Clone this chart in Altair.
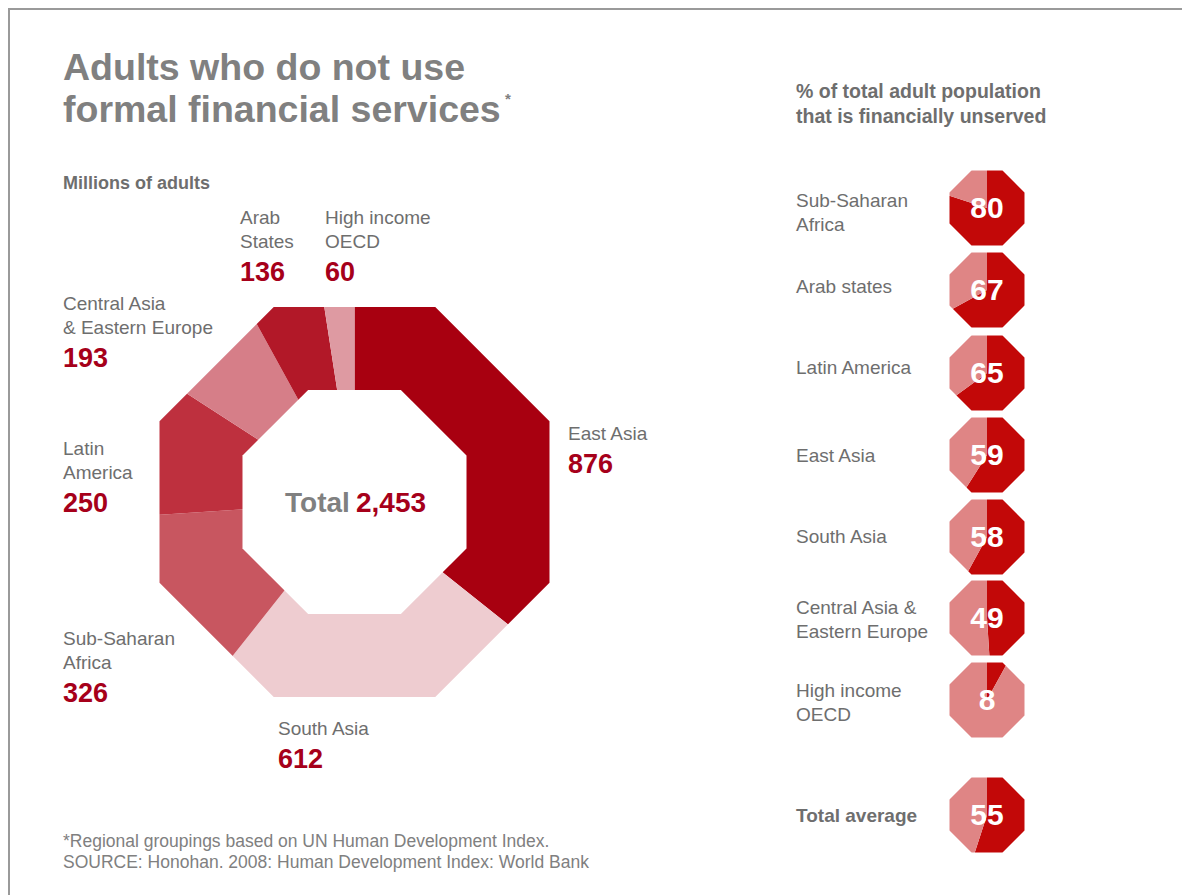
import math
import altair as alt
import pandas as pd

# ---------------- data ----------------
regions = ["East Asia", "South Asia", "Sub-Saharan Africa", "Latin America",
           "Central Asia & Eastern Europe", "Arab States", "High income OECD"]
adults_millions = [876, 612, 326, 250, 193, 136, 60]
total_adults = 2453

pct_regions = ["Sub-Saharan Africa", "Arab states", "Latin America", "East Asia",
               "South Asia", "Central Asia & Eastern Europe", "High income OECD",
               "Total average"]
pct_unserved = [80, 67, 65, 59, 58, 49, 8, 55]

title_lines = ["Adults who do not use", "formal financial services"]
subtitle = "Millions of adults"
header_lines = ["% of total adult population", "that is financially unserved"]
footnote_lines = ["*Regional groupings based on UN Human Development Index.",
                  "SOURCE: Honohan. 2008: Human Development Index: World Bank"]

donut_label_lines = [["East Asia"], ["South Asia"], ["Sub-Saharan", "Africa"],
                     ["Latin", "America"], ["Central Asia", "& Eastern Europe"],
                     ["Arab", "States"], ["High income", "OECD"]]
pct_label_lines = [["Sub-Saharan", "Africa"], ["Arab states"], ["Latin America"],
                   ["East Asia"], ["South Asia"], ["Central Asia &", "Eastern Europe"],
                   ["High income", "OECD"], ["Total average"]]

# ---------------- style / layout ----------------
W, H = 1182, 895
FONT = "Liberation Sans"
GRAY_TITLE = "#808080"
GRAY_TEXT = "#6E6E6E"
RED_NUM = "#A6001A"
slice_colors = ["#A80010", "#EECCD0", "#C85660", "#BE303E", "#D67E88", "#B21828", "#DE9AA2"]
PIE_DARK = "#C20808"
PIE_LIGHT = "#DF8585"

CX, CY = 354.5, 502
OUT_APO, IN_APO = 195, 112
SMALL_CX = 987
SMALL_APO = 37.5
small_cy = [208, 290, 373, 455, 537, 618, 700, 815]
small_label_y = [207, 293, 374, 462, 543, 614, 697, 822]
donut_label_pos = [(568, 440), (278, 735), (63, 645), (63, 455), (63, 310), (240, 224), (325, 224)]
LINE_H = 24
NUM_GAP = 33

T = math.tan(math.pi / 8)


def octagon(a, reverse=False):
    pts = [(-T * a, -a), (T * a, -a), (a, -T * a), (a, T * a),
           (T * a, a), (-T * a, a), (-a, T * a), (-a, -T * a)]
    if reverse:
        pts = pts[::-1]
    return "M" + " L".join(f"{x:.2f},{y:.2f}" for x, y in pts) + " Z"


def square(m):
    return f"M{-m},{-m} L{m},{-m} L{m},{m} L{-m},{m} Z"


def mask_path(apo, half):
    # square with an octagonal hole (opposite winding)
    return square(half) + " " + octagon(apo, reverse=True)


# ---------------- big donut ----------------
starts, ends, acc = [], [], 0
for v in adults_millions:
    starts.append(acc)
    acc += v
    ends.append(acc)
donut_df = pd.DataFrame({"region": regions, "value": adults_millions,
                         "start": starts, "end": ends})

r_big = OUT_APO / math.cos(math.pi / 8) + 3
donut = alt.Chart(donut_df).mark_arc(radius=r_big, radius2=50).encode(
    theta=alt.Theta("start:Q", stack=False,
                    scale=alt.Scale(domain=[0, total_adults], range=[0, 2 * math.pi])),
    theta2="end:Q",
    color=alt.Color("region:N", scale=alt.Scale(domain=regions, range=slice_colors), legend=None),
    x=alt.value(CX), y=alt.value(CY),
)

one = pd.DataFrame({"a": [0]})
big_mask = alt.Chart(one).mark_point(
    shape=mask_path(OUT_APO, r_big + 4), size=4, filled=True, color="white", opacity=1, strokeWidth=0
).encode(x=alt.value(CX), y=alt.value(CY))
big_hole = alt.Chart(one).mark_point(
    shape=octagon(IN_APO), size=4, filled=True, color="white", opacity=1, strokeWidth=0
).encode(x=alt.value(CX), y=alt.value(CY))

# ---------------- small octagon pies ----------------
rows = []
for name, p, cy in zip(pct_regions, pct_unserved, small_cy):
    rows.append({"region": name, "part": "unserved", "start": 0, "end": p, "cy": cy})
    rows.append({"region": name, "part": "served", "start": p, "end": 100, "cy": cy})
pies_df = pd.DataFrame(rows)

r_small = SMALL_APO / math.cos(math.pi / 8) + 0.5
pies = alt.Chart(pies_df).mark_arc(radius=r_small, radius2=0).encode(
    theta=alt.Theta("start:Q", stack=False,
                    scale=alt.Scale(domain=[0, 100], range=[0, 2 * math.pi])),
    theta2="end:Q",
    color=alt.Color("part:N", scale=alt.Scale(domain=["unserved", "served"],
                                              range=[PIE_DARK, PIE_LIGHT]), legend=None),
    x=alt.value(SMALL_CX),
    y=alt.Y("cy:Q", scale=None, stack=False),
)
small_mask_df = pd.DataFrame({"cy": small_cy})
small_masks = alt.Chart(small_mask_df).mark_point(
    shape=mask_path(SMALL_APO, 42.5), size=4, filled=True, color="white", opacity=1, strokeWidth=0
).encode(x=alt.value(SMALL_CX), y=alt.Y("cy:Q", scale=None))


# ---------------- texts ----------------
def text_layer(records, size, color, weight="normal", align="left"):
    df = pd.DataFrame(records, columns=["x", "y", "text"])
    return alt.Chart(df).mark_text(
        font=FONT, fontSize=size, color=color, fontWeight=weight,
        align=align, baseline="alphabetic"
    ).encode(x=alt.X("x:Q", scale=None), y=alt.Y("y:Q", scale=None), text="text:N")


gray_labels, red_nums = [], []
for lines, val, (lx, ly) in zip(donut_label_lines, adults_millions, donut_label_pos):
    for i, ln in enumerate(lines):
        gray_labels.append((lx, ly + i * LINE_H, ln))
    red_nums.append((lx, ly + (len(lines) - 1) * LINE_H + NUM_GAP, f"{val:,}"))

right_labels, right_bold = [], []
for lines, y0 in zip(pct_label_lines, small_label_y):
    for i, ln in enumerate(lines):
        rec = (796, y0 + i * 23.5, ln)
        if ln == "Total average":
            right_bold.append(rec)
        else:
            right_labels.append(rec)

oct_nums = [(SMALL_CX, cy + 10, str(p)) for p, cy in zip(pct_unserved, small_cy)]

title_size = 37.5
title_recs = [(63, 80, title_lines[0]), (63, 122, title_lines[1])]

layers = [
    donut, big_mask, big_hole, pies, small_masks,
    text_layer(title_recs, title_size, GRAY_TITLE, "bold"),
    text_layer([(505, 104, "*")], 15, GRAY_TITLE, "bold"),
    text_layer([(63, 189, subtitle)], 18, GRAY_TEXT, "bold"),
    text_layer([(796, 98, header_lines[0]), (796, 123, header_lines[1])], 19.5, GRAY_TEXT, "bold"),
    text_layer(gray_labels, 19, GRAY_TEXT),
    text_layer(red_nums, 27, RED_NUM, "bold"),
    text_layer(right_labels, 19, GRAY_TEXT),
    text_layer(right_bold, 19, GRAY_TEXT, "bold"),
    text_layer(oct_nums, 30, "white", "bold", "center"),
    text_layer([(285, 512, "Total")], 28, GRAY_TITLE, "bold"),
    text_layer([(356, 512, f"{total_adults:,}")], 28, RED_NUM, "bold"),
    text_layer([(63, 847, footnote_lines[0]), (63, 868, footnote_lines[1])], 17.5, GRAY_TITLE),
    alt.Chart(one).mark_rule(color="#9A9A9A", strokeWidth=2).encode(
        x=alt.value(8), x2=alt.value(W), y=alt.value(9)),
    alt.Chart(one).mark_rule(color="#9A9A9A", strokeWidth=2).encode(
        x=alt.value(9), y=alt.value(8), y2=alt.value(H)),
]

chart = alt.layer(*layers).resolve_scale(
    theta="independent", color="independent"
).properties(
    width=W, height=H, padding=0,
    autosize=alt.AutoSizeParams(type="none"),
    background="white",
).configure_view(stroke=None)

chart.save("out.html", embed_options={"renderer": "svg", "actions": False})
